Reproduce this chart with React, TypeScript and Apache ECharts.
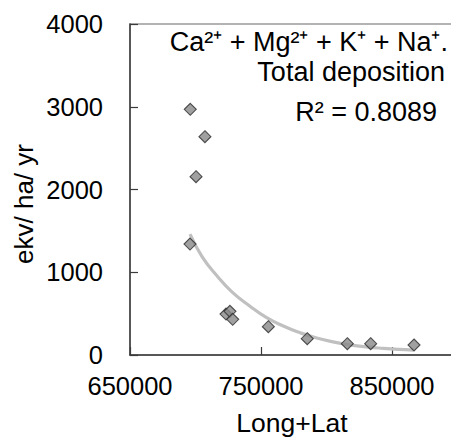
import React, { useEffect, useRef } from "react";
import * as echarts from "echarts";

const xValues = [696000, 707200, 700400, 695800, 723300, 726300, 728400, 755600, 785300, 815900, 833700, 866800];
const yValues = [2969, 2638, 2155, 1341, 495, 528, 431, 342, 197, 137, 137, 121];

const trendX = [695800, 705000, 716200, 728000, 741600, 754000, 767000, 780000, 792500, 805000, 817900, 830000, 843400, 855000, 866300];
const trendY = [1462, 1190, 960, 760, 590, 455, 350, 268, 205, 158, 122, 98, 80, 68, 60];

const titleLines = ["Ca²⁺ + Mg²⁺ + K⁺ + Na⁺.", "Total deposition"];
const r2Label = "R² = 0.8089";
const xName = "Long+Lat";
const yName = "ekv/ ha/ yr";

const FONT = "Liberation Sans, Arial, sans-serif";

export default function App() {
  const ref = useRef<HTMLDivElement>(null);
  useEffect(() => {
    if (!ref.current) return;
    const chart = echarts.init(ref.current, null, { renderer: "svg" });
    const points = xValues.map((x, i) => [x, yValues[i]]);
    const trend = trendX.map((x, i) => [x, trendY[i]]);
    chart.setOption({
      animation: false,
      backgroundColor: "#ffffff",
      textStyle: { fontFamily: FONT },
      grid: {
        left: 130,
        top: 24,
        bottom: 83,
        right: -72,
        containLabel: false,
        outerBoundsMode: "none",
        show: true,
        borderColor: "#9a9a9a",
        borderWidth: 1.5,
        backgroundColor: "transparent",
      },
      xAxis: {
        type: "value",
        min: 650000,
        max: 950000,
        interval: 100000,
        axisLine: { show: true, onZero: false, lineStyle: { color: "#3a3a3a", width: 1.5 } },
        axisTick: { show: true, inside: true, length: 8, lineStyle: { color: "#3a3a3a", width: 1.2 } },
        axisLabel: {
          color: "#000",
          fontSize: 25.5,
          fontFamily: FONT,
          margin: 18,
          showMaxLabel: false,
          formatter: (v: number) => String(v),
        },
        splitLine: { show: false },
      },
      yAxis: {
        type: "value",
        min: 0,
        max: 4000,
        interval: 1000,
        axisLine: { show: true, lineStyle: { color: "#3a3a3a", width: 1.5 } },
        axisTick: { show: true, inside: true, length: 8, lineStyle: { color: "#3a3a3a", width: 1.2 } },
        axisLabel: { color: "#000", fontSize: 25.5, fontFamily: FONT, margin: 27, formatter: (v: number) => String(v) },
        splitLine: { show: false },
      },
      series: [
        {
          type: "line",
          data: trend,
          smooth: true,
          showSymbol: false,
          symbol: "none",
          lineStyle: { color: "#c0c0c0", width: 3.2 },
          z: 1,
        },
        {
          type: "scatter",
          data: points,
          symbol: "diamond",
          symbolSize: [12, 12],
          itemStyle: { color: "#888888", borderColor: "#2a2a2a", borderWidth: 1.1 },
          z: 2,
        },
      ],
      graphic: [
        {
          type: "text",
          x: 448,
          y: 42,
          style: { text: titleLines[0], font: `27px ${FONT}`, fill: "#000", textAlign: "right", textVerticalAlign: "middle" },
        },
        {
          type: "text",
          x: 445,
          y: 72,
          style: { text: titleLines[1], font: `27px ${FONT}`, fill: "#000", textAlign: "right", textVerticalAlign: "middle" },
        },
        {
          type: "text",
          x: 437,
          y: 112,
          style: { text: r2Label, font: `27px ${FONT}`, fill: "#000", textAlign: "right", textVerticalAlign: "middle" },
        },
        {
          type: "text",
          x: 292,
          y: 423,
          style: { text: xName, font: `26.5px ${FONT}`, fill: "#000", textAlign: "center", textVerticalAlign: "middle" },
        },
        {
          type: "text",
          x: 24,
          y: 204,
          rotation: Math.PI / 2,
          style: { text: yName, font: `26px ${FONT}`, fill: "#000", textAlign: "center", textVerticalAlign: "middle" },
        },
      ],
    });
    return () => chart.dispose();
  }, []);
  return <div ref={ref} style={{ width: 451, height: 438, position: "absolute", left: 0, top: 0 }} />;
}
